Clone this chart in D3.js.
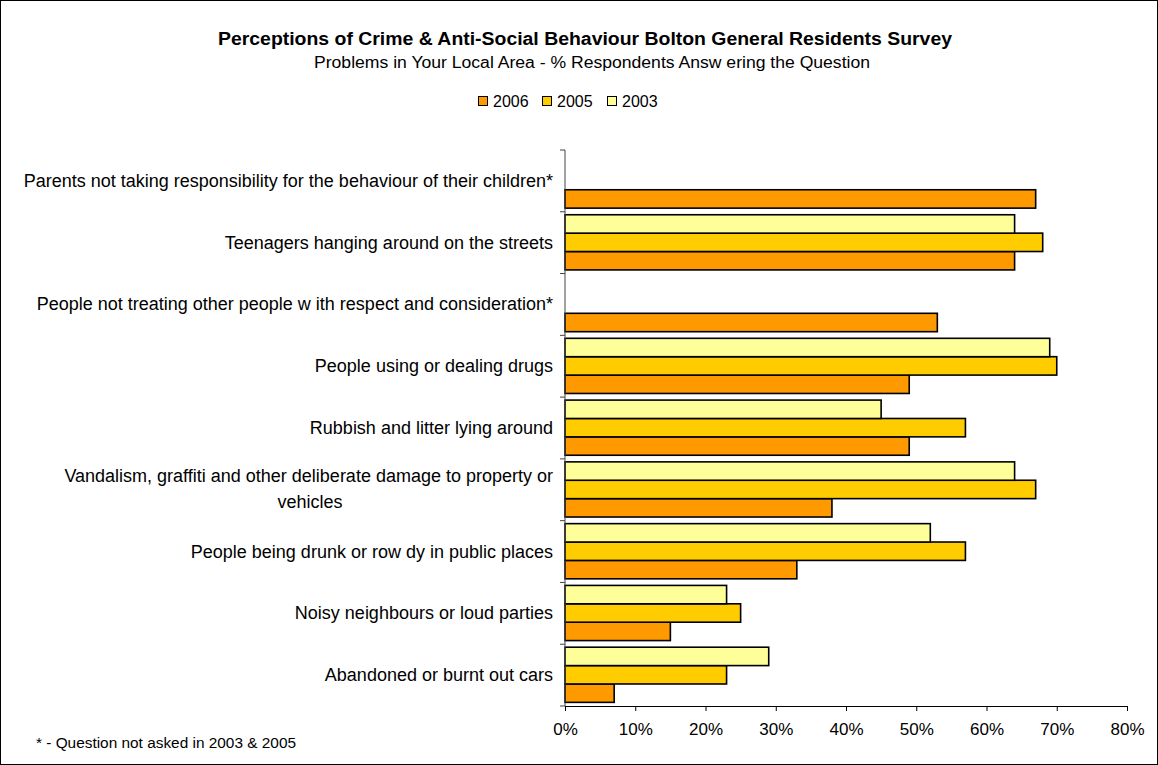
<!DOCTYPE html>
<html>
<head>
<meta charset="utf-8">
<script src="https://cdnjs.cloudflare.com/ajax/libs/d3/7.8.5/d3.min.js"></script>
<style>
  body { margin: 0; background: #fff; }
  svg text { font-family: "Liberation Sans", Arial, sans-serif; fill: #000; }
</style>
</head>
<body>
<div id="chart"></div>
<script>
// categories, top to bottom
var categories = [
  "Parents not taking responsibility for the behaviour of their children*",
  "Teenagers hanging around on the streets",
  "People not treating other people w ith respect and consideration*",
  "People using or dealing drugs",
  "Rubbish and litter lying around",
  "Vandalism, graffiti and other deliberate damage to property or vehicles",
  "People being drunk or row dy in public places",
  "Noisy neighbours or loud parties",
  "Abandoned or burnt out cars"
];
// null = question not asked
var values2006 = [67, 64, 53, 49, 49, 38, 33, 15, 7];
var values2005 = [null, 68, null, 70, 57, 67, 57, 25, 23];
var values2003 = [null, 64, null, 69, 45, 64, 52, 23, 29];
var seriesNames = ["2006", "2005", "2003"];
var xTicks = [0, 10, 20, 30, 40, 50, 60, 70, 80];

var svgWidth = 1158;
var svgHeight = 765;
var margin = { top: 150, right: 31, bottom: 59, left: 565 };
var width = svgWidth - margin.left - margin.right;
var height = svgHeight - margin.top - margin.bottom;

var colors = { "2006": "#FF9900", "2005": "#FFCC00", "2003": "#FFFF99" };

var svg = d3.select("#chart")
  .append("svg")
  .attr("width", svgWidth)
  .attr("height", svgHeight);

// outer frame
svg.append("rect")
  .attr("x", 0.5).attr("y", 0.5)
  .attr("width", svgWidth - 1).attr("height", svgHeight - 1)
  .attr("fill", "none").attr("stroke", "#000");

svg.append("text")
  .attr("x", 585).attr("y", 45)
  .attr("text-anchor", "middle")
  .style("font-size", "18px").style("font-weight", "bold")
  .attr("textLength", 734).attr("lengthAdjust", "spacingAndGlyphs")
  .text("Perceptions of Crime & Anti-Social Behaviour Bolton General Residents Survey");

svg.append("text")
  .attr("x", 592).attr("y", 68)
  .attr("text-anchor", "middle")
  .style("font-size", "16px")
  .attr("textLength", 556).attr("lengthAdjust", "spacingAndGlyphs")
  .text("Problems in Your Local Area - % Respondents Answ ering the Question");

// legend
var legend = svg.append("g").attr("transform", "translate(478, 96)");
var legendX = [0, 64, 129];
seriesNames.forEach(function(name, i) {
  var g = legend.append("g").attr("transform", `translate(${legendX[i]}, 0)`);
  g.append("rect")
    .attr("x", 0.5).attr("y", 0.5)
    .attr("width", 9).attr("height", 9)
    .attr("fill", colors[name]).attr("stroke", "#000").attr("stroke-width", 1);
  g.append("text")
    .attr("x", 15).attr("y", 11)
    .style("font-size", "16px")
    .text(name);
});

var chartGroup = svg.append("g")
  .attr("transform", `translate(${margin.left}, ${margin.top})`);

var xScale = d3.scaleLinear()
  .domain([0, 80])
  .range([0, 562]);

var yScale = d3.scaleBand()
  .domain(categories)
  .range([0, height])
  .paddingInner(0)
  .paddingOuter(0);

// inner scale: 2003 on top, 2006 at the bottom
var ySub = d3.scaleBand()
  .domain(["2003", "2005", "2006"])
  .range([0, yScale.bandwidth()])
  .paddingInner(0)
  .paddingOuter(0.18)
  .align(0.45);

var data = [];
categories.forEach(function(c, i) {
  data.push({ cat: c, series: "2006", value: values2006[i] });
  data.push({ cat: c, series: "2005", value: values2005[i] });
  data.push({ cat: c, series: "2003", value: values2003[i] });
});

chartGroup.selectAll("rect.bar")
  .data(data.filter(d => d.value !== null))
  .enter()
  .append("rect")
  .attr("class", "bar")
  .attr("x", 0)
  .attr("y", d => yScale(d.cat) + ySub(d.series))
  .attr("width", d => xScale(d.value))
  .attr("height", ySub.bandwidth())
  .attr("fill", d => colors[d.series])
  .attr("stroke", "#000")
  .attr("stroke-width", 1.6);

// x axis
var bottomAxis = d3.axisBottom(xScale)
  .tickValues(xTicks)
  .tickSize(5)
  .tickPadding(12)
  .tickFormat(d => d + "%");

var xAxisG = chartGroup.append("g")
  .attr("transform", `translate(0, ${height})`)
  .call(bottomAxis);
xAxisG.select(".domain").attr("stroke", "#000");
xAxisG.selectAll("text").style("font-size", "17px").attr("font-family", null);

// y axis: line with ticks at category boundaries
var yAxisG = chartGroup.append("g");
yAxisG.append("line")
  .attr("x1", 0).attr("x2", 0)
  .attr("y1", 0).attr("y2", height)
  .attr("stroke", "#444");
yAxisG.selectAll("line.tick")
  .data(categories.concat(["end"]))
  .enter()
  .append("line")
  .attr("class", "tick")
  .attr("x1", -5).attr("x2", 0)
  .attr("y1", (d, i) => i * yScale.step())
  .attr("y2", (d, i) => i * yScale.step())
  .attr("stroke", "#444");

// category labels
categories.forEach(function(c) {
  var cy = yScale(c) + yScale.bandwidth() / 2;
  if (c.indexOf("Vandalism") === 0) {
    chartGroup.append("text")
      .attr("x", -12).attr("y", cy - 8)
      .attr("text-anchor", "end")
      .style("font-size", "18px")
      .text("Vandalism, graffiti and other deliberate damage to property or");
    chartGroup.append("text")
      .attr("x", -255).attr("y", cy + 18)
      .attr("text-anchor", "middle")
      .style("font-size", "18px")
      .text("vehicles");
  } else {
    chartGroup.append("text")
      .attr("x", -12).attr("y", cy + 6)
      .attr("text-anchor", "end")
      .style("font-size", "18px")
      .text(c);
  }
});

svg.append("text")
  .attr("x", 36).attr("y", 748)
  .style("font-size", "14px")
  .attr("textLength", 260).attr("lengthAdjust", "spacingAndGlyphs")
  .text("* - Question not asked in 2003 & 2005");
</script>
</body>
</html>
